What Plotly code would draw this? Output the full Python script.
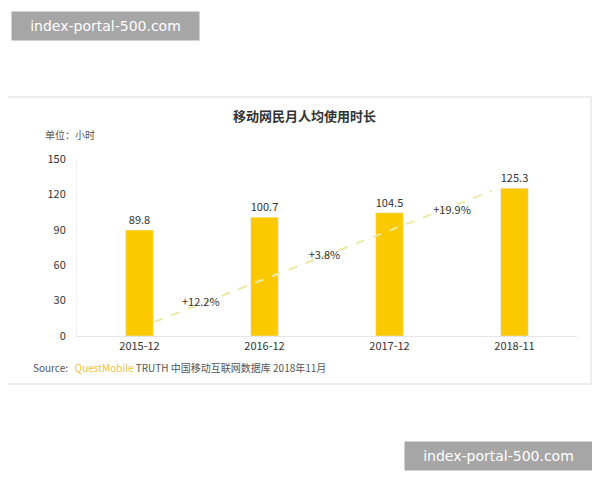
import plotly.graph_objects as go

# --- Data ---
periods = ["2015-12", "2016-12", "2017-12", "2018-11"]
hours = [89.8, 100.7, 104.5, 125.3]
growth_labels = ["+12.2%", "+3.8%", "+19.9%"]
growth_x = [0.49, 1.48, 2.5]
growth_y = [28, 68, 106]
trend_x = [0.12, 2.82]
trend_y = [12, 123]

x_pos = list(range(len(periods)))
font_family = "Noto Sans CJK SC, Noto Sans, sans-serif"

# plot area in page pixels (the page adds ~7px body margin)
PL, PT, PW, PH = 76, 158, 500, 177


def px(x):
    return (x - PL) / PW


def py(y):
    return (PT + PH - y) / PH


fig = go.Figure()

# dashed trend line behind the bars
fig.add_trace(go.Scatter(
    x=trend_x, y=trend_y, mode="lines",
    line=dict(color="#ece9a6", width=2, dash="dash"),
    hoverinfo="skip", showlegend=False,
))

fig.add_trace(go.Bar(
    x=x_pos, y=hours, width=0.22,
    marker=dict(color="#fcc800"),
    text=[f"{v:.1f}" for v in hours], textposition="outside",
    textfont=dict(size=11, color="#333"),
    cliponaxis=False, showlegend=False,
))

fig.add_trace(go.Scatter(
    x=growth_x, y=growth_y, mode="text", text=growth_labels,
    textfont=dict(size=11, color="#333"), showlegend=False,
))

fig.update_layout(
    width=600, height=480,
    paper_bgcolor="white", plot_bgcolor="white",
    font=dict(family=font_family, color="#333"),
    margin=dict(l=PL - 7, r=600 - PL - PW + 7, t=PT - 7, b=480 - PT - PH + 7),
    xaxis=dict(
        tickmode="array", tickvals=x_pos, ticktext=periods,
        range=[-0.5, 3.5], showgrid=False, zeroline=False,
        showline=True, linecolor="#e6e6e6", tickfont=dict(size=11, color="#333"),
        ticks="", fixedrange=True,
    ),
    yaxis=dict(
        range=[0, 150], tickvals=[0, 30, 60, 90, 120, 150],
        showgrid=False, zeroline=False, showline=True, linecolor="#f2f2f2",
        tickfont=dict(size=11, color="#333"), ticklabelstandoff=8,
    ),
    shapes=[dict(type="rect", xref="paper", yref="paper", x0=px(2), x1=px(590),
                 y0=py(383), y1=py(96), line=dict(color="#e8e8e8", width=1.5))],
    annotations=[
        dict(text="<b>移动网民月人均使用时长</b>", xref="paper", yref="paper",
             x=px(303), y=py(115), xanchor="center", yanchor="middle",
             showarrow=False, font=dict(size=13, color="#333")),
        dict(text="单位：小时", xref="paper", yref="paper", x=px(42), y=py(134),
             xanchor="left", yanchor="middle", showarrow=False,
             font=dict(size=10, color="#555")),
        dict(text="Source:   <span style='color:#f0c040'>QuestMobile</span> TRUTH 中国移动互联网数据库 2018年11月",
             xref="paper", yref="paper", x=px(30), y=py(366), xanchor="left",
             yanchor="middle", showarrow=False, font=dict(size=10, color="#555")),
    ],
)

# watermark boxes
for cx, cy in [(104, 25), (497, 455)]:
    fig.add_annotation(
        text="index-portal-500.com", xref="paper", yref="paper",
        x=px(cx), y=py(cy), xanchor="center", yanchor="middle",
        showarrow=False, bgcolor="#a6a6a6", borderpad=6, width=175,
        font=dict(size=14, color="white", family="DejaVu Sans"),
    )

fig.write_html("out.html")
